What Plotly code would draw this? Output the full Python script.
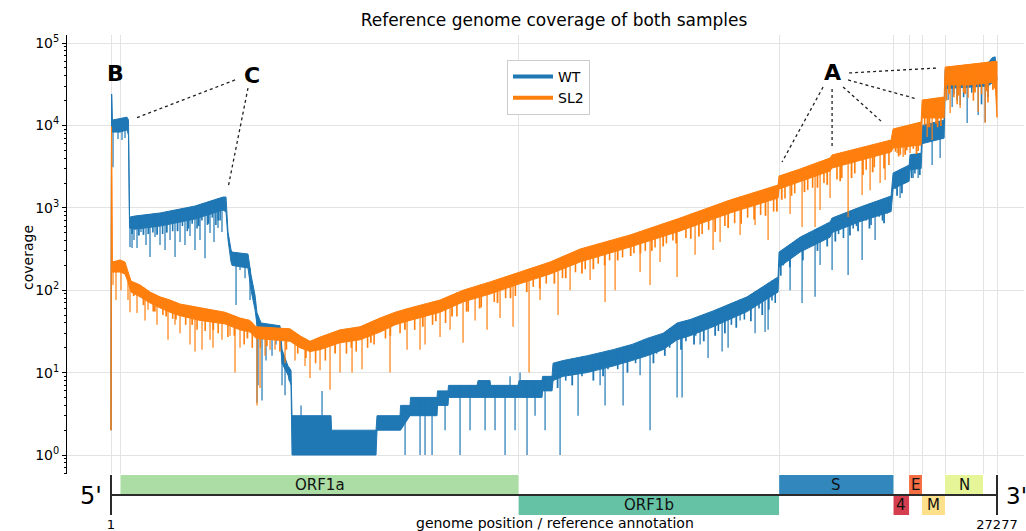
import numpy as np
import plotly.graph_objects as go

GENOME_LEN = 27277

# ---------------- coverage data ----------------
# WT: positions of envelope vertices, upper edge and lower edge of the dense trace band
wt_pos = [1, 19, 41, 278, 494, 540, 571, 740, 1510, 2587, 3449, 3542, 3603, 3696, 3727,
          4219, 4312, 4435, 4496, 4620, 5205, 5266, 5451, 5543, 5574, 6775, 6790, 8160,
          8191, 8899, 8915, 9207, 9222, 10038, 10054, 10377, 10392, 11270, 11301, 11670,
          11686, 12532, 12563, 13271, 13287, 13579, 13610, 13918, 14658, 15458, 16043,
          16505, 16997, 17428, 17828, 18536, 19583, 20537, 20568, 21215, 22138, 22200,
          23062, 24017, 24078, 24571, 24602, 24941, 24972, 25649, 25680, 27000, 27128,
          27220, 27277]
wt_hi = [2, 24000, 11600, 12000, 12600, 11600, 770, 795, 865, 1050, 1350, 1350, 510, 310, 290,
         275, 153, 87, 53, 40, 37, 19, 12, 10.7, 3, 3, 2, 2,
         3, 3, 4, 4, 5, 5, 6, 6, 7, 7, 8, 8,
         7, 7, 8, 8, 9, 9, 13, 14, 16, 19, 22,
         26, 30, 40, 44, 56, 83, 145, 290, 440, 673, 750,
         1020, 1390, 2640, 3300, 4400, 4600, 10000, 11600, 48000, 57000, 66000,
         68000, 35000]
wt_lo = [2, 24000, 8300, 8300, 8800, 7600, 570, 550, 600, 730, 940, 890, 410, 220, 200,
         186, 100, 58, 38, 30, 26, 13, 9.3, 7, 1, 1, 1, 1,
         2, 2, 2, 3, 3, 3, 4, 4, 5, 5, 5, 5,
         5, 5, 5, 5, 6, 6, 8, 9, 10, 12, 14,
         16, 19, 25, 28, 36, 55, 95, 190, 290, 440, 500,
         680, 900, 1700, 2100, 2900, 3000, 6000, 7000, 28000, 30000, 33000,
         35000, 35000]
# WT deep single-position drops / peaks
wt_dip_pos = [63, 217, 340, 432, 586, 648, 709, 802, 925, 1079, 1202, 1356, 1510, 1664, 1818,
              1972, 2126, 2279, 2433, 2587, 2741, 2895, 3049, 3172, 3295, 3418, 3850, 3973,
              4127, 4281, 4496, 4527, 4650, 4773, 4958, 5081, 5266, 5359, 5482, 5851, 6498,
              9054, 9515, 9669, 9885, 10285, 10746, 11054, 11517, 11824, 12132, 12286, 12440,
              12594, 12809, 13056, 13364, 13826, 14380, 15058, 15211, 15766, 16289, 16596,
              17428, 17582, 18136, 18382, 18813, 18998, 19368, 19829, 20137, 20230, 20907,
              21276, 21676, 21830, 22200, 22693, 23124, 23524, 24294, 24695, 24849, 25280,
              25526, 25772, 25896, 26142, 26358, 26697, 26912]
wt_dip_val = [3100, 6840, 6650, 7030, 334, 325, 407, 325, 509, 354, 253, 442, 354, 308, 407,
              253, 385, 354, 455, 308, 407, 245, 495, 385, 569, 509, 66, 176,
              140, 76, 4.3, 7, 4.6, 14, 16, 22, 7, 5.3, 8, 4, 6,
              1, 1, 1, 1, 2, 1, 2, 2, 2, 1, 9, 2,
              10, 1, 3, 2, 1, 3, 7, 4, 4, 9.3, 2,
              5, 5, 22, 15, 18, 20, 43, 30, 31, 33, 100,
              70, 83, 202, 176, 153, 233, 407, 1315, 2300, 2300, 3300,
              4020, 20300, 16700, 17700, 10700, 13400, 11000]
# WT shallow notches below the dense band
wt_notch_pos = [1290, 1590, 1900, 2200, 2350, 2500, 2650, 2800, 2970, 3120, 3230, 3360,
                14000, 14500, 15300, 15600, 16150, 16400, 16800, 17200, 17700, 18000, 18700,
                19100, 19500, 19950, 20350, 20450, 20700, 20800, 21000, 21100, 21400, 21500,
                21950, 22400, 22550, 22850, 22950, 23250, 23400, 23650, 23750, 23900, 24150,
                24450, 24750, 25950, 26050, 26250, 26500, 26800, 27000]
wt_notch_val = [500, 480, 520, 600, 520, 640, 560, 700, 620, 760, 620, 700,
                8, 9, 11, 11, 13, 16, 17, 20, 24, 28, 32,
                38, 44, 60, 75, 70, 200, 230, 260, 300, 330, 360,
                420, 480, 430, 560, 600, 700, 620, 780, 700, 850, 1700,
                2000, 2600, 24000, 20000, 22000, 25000, 18000, 22000]
# WT ragged fringe just under the dense band
wt_fringe_pos = [650, 860, 1000, 1150, 1420, 1720, 2050, 2380, 2700, 3000, 3300,
                 13750, 14200, 14850, 15150, 15900, 16700, 17050, 17550, 17950, 18250, 18600,
                 18900, 19250, 19700, 20050, 20250,
                 20620, 20900, 21300, 21750, 22050, 22300, 22750, 23000, 23350, 23800,
                 24200, 24350, 24650, 24900]
wt_fringe_val = [480, 460, 470, 480, 470, 500, 520, 560, 600, 640, 700,
                 6.5, 7, 8, 9, 10, 13, 16, 19, 22, 24, 28,
                 30, 35, 42, 50, 58,
                 150, 190, 230, 300, 340, 390, 460, 520, 560, 650,
                 1400, 1500, 2300, 2500]

# SL2
sl2_pos = [1, 16, 41, 278, 432, 524, 617, 894, 1202, 1510, 1818, 2126, 2741, 3511, 3973,
           4281, 4466, 5512, 5820, 6128, 6436, 7052, 7668, 8283, 8746, 9207, 10131, 10839,
           11670, 12563, 13518, 14442, 15981, 17520, 19060, 20537, 20568, 21215, 22138,
           22200, 23062, 24017, 24078, 24941, 24972, 25649, 25680, 26450, 27220, 27277]
sl2_hi = [2, 9600, 220, 233, 220, 166, 129, 116, 95, 83, 76, 68, 61, 54, 46,
          43, 36, 34, 28, 24, 27, 33, 36, 46, 54, 61, 76, 100,
          126, 166, 220, 316, 468, 752, 1244, 1890, 2430, 2960, 4020,
          4380, 5300, 6650, 9040, 11000, 20300, 22100, 51000, 55600, 60500, 60000]
sl2_lo = [2, 9600, 166, 166, 157, 126, 95, 83, 70, 61, 54, 49, 43, 39, 33,
          31, 26, 24, 20, 18, 19, 23, 25, 31, 38, 43, 54, 72,
          90, 119, 157, 220, 334, 523, 865, 1315, 1690, 2056, 2800,
          3040, 3800, 4760, 5300, 5780, 12300, 12300, 31000, 31000, 33600, 12500]
sl2_dip_pos = [63, 155, 309, 524, 586, 802, 1048, 1140, 1417, 1756, 1972, 2126, 2433, 2587,
               2803, 3049, 3141, 3418, 3665, 3819, 3973, 4496, 4589, 4743, 4897, 5051, 5359,
               5666, 5974, 6128, 6436, 6744, 7052, 7422, 7729, 8591, 9115, 9515, 9669, 10131,
               10439, 10839, 11209, 11578, 11978, 12378, 12871, 13210, 13764, 14134, 14750,
               15211, 15520, 16289, 16596, 16904, 17428, 17982, 18536, 18752, 19368, 19829,
               20230, 20907, 21276, 21676, 21830, 22138, 22693, 23124, 23370, 23678, 23832,
               24202, 24387, 24602, 25126, 25280, 25834, 26142, 26389, 26697, 26912, 27128]
sl2_dip_val = [116, 76, 100, 76, 54, 53, 43, 58, 38, 25, 38, 30, 22, 18,
               19, 25, 20, 25, 28, 10, 20, 4, 6.5, 16, 19, 19, 13,
               14, 12, 8.6, 10.7, 6.2, 10, 10, 11, 10, 19, 19, 22, 27,
               33, 23, 43, 33, 46, 36, 10, 76, 50, 100, 133,
               72, 100, 166, 116, 220, 145, 270, 308, 385, 468, 618,
               407, 840, 585, 585, 940, 1315, 773, 1430, 1630, 2000, 2170,
               4630, 4140, 4630, 7230, 6650, 14100, 16300, 21500, 14500, 10700, 32700]
sl2_notch_pos = [1300, 1600, 1900, 2300, 2650, 2900, 3300, 3600, 4100, 4350,
                 4600, 5200, 5750, 6300, 6600, 7250, 7550, 7900, 8100, 8450, 8900, 9350,
                 9900, 10300, 10650, 11000, 11400, 11800, 12150, 12450,
                 13000, 13400, 13900, 14300, 14600, 15000, 15350, 15750, 16100, 16450,
                 16750, 17100, 17300, 17700, 18200, 18400, 18900, 19200, 19600, 20000, 20400,
                 20750, 21050, 21450, 21600, 21950, 22350, 22500, 22900, 23250, 23500, 23950,
                 24150, 24300, 24500, 24700, 24850, 25050, 25200, 25400, 25550,
                 25720, 25950, 26050, 26250, 26550, 26800, 27000, 27200]
sl2_notch_val = [55, 50, 45, 38, 33, 32, 30, 27, 22, 20,
                 20, 18, 17, 13, 14, 17, 18, 20, 22, 26, 30, 33,
                 38, 40, 48, 55, 62, 72, 80, 85,
                 110, 120, 140, 165, 180, 210, 230, 250, 280, 300,
                 330, 370, 400, 430, 480, 540, 600, 650, 760, 820, 900,
                 1300, 1500, 1650, 1750, 2000, 2200, 2300, 2600, 2900, 3100, 3300,
                 4800, 4400, 5000, 5200, 4900, 10000, 9500, 10500, 9800,
                 20000, 22000, 18000, 25000, 20000, 24000, 19000, 28000]
sl2_fringe_pos = [700, 1000, 1350, 1700, 2000, 2500, 3150, 3800, 4200,
                  4800, 5400, 6000, 6900, 7400, 8000, 8600, 9050, 9600, 10000, 10500, 10950,
                  11350, 11900, 12300,
                  12800, 13200, 13650, 14000, 14500, 14850, 15200, 15600, 16000, 16300, 16650,
                  17000, 17400, 17850, 18100, 18600, 19000, 19400, 19800, 20150, 20500,
                  20650, 20950, 21350, 21750, 22050, 22450, 22800, 23150, 23450, 23800,
                  24250, 24450, 24800, 25150, 25450,
                  25800, 26100, 26300, 26600, 26950, 27150]
sl2_fringe_val = [85, 66, 55, 48, 44, 38, 33, 28, 26,
                  21, 19, 15, 17, 20, 23, 28, 33, 36, 42, 48, 55,
                  60, 70, 80,
                  95, 105, 120, 140, 160, 180, 200, 230, 260, 280, 300,
                  340, 370, 420, 450, 510, 570, 640, 720, 800, 900,
                  1250, 1400, 1550, 1750, 1900, 2100, 2300, 2500, 2700, 3000,
                  4200, 4400, 4500, 9500, 9500,
                  24000, 23000, 24000, 25000, 26000, 27000]

# ---------------- reference annotation ----------------
gene_names = ["ORF1a", "ORF1b", "S", "4", "E", "M", "N"]
gene_start = [293, 12550, 20570, 24091, 24570, 24969, 25677]
gene_end = [12550, 20568, 24091, 24570, 24969, 25677, 26847]
gene_row = [1, -1, 1, -1, 1, -1, 1]
gene_colors = ["#abdda4", "#66c2a5", "#3288bd", "#d53e4f", "#f46d43", "#fee08b", "#e6f598"]

# ---------------- callouts ----------------
label_text = ["B", "C", "A"]
label_pos = [124, 4343, 22200]
label_cov = [42100, 39800, 43300]
pointer_from_pos = [3819, 4219, 21923, 22200, 22539, 22693, 22724]
pointer_from_cov = [35600, 28400, 29200, 27700, 29200, 35600, 43300]
pointer_to_pos = [771, 3603, 20660, 22200, 23771, 24818, 25464]
pointer_to_cov = [12300, 1740, 3600, 5320, 10700, 20900, 49800]

BLUE = "#1f77b4"
ORANGE = "#ff7f0e"
GRID = "#e3e3e3"
FONT = "DejaVu Sans"

# figure geometry (pixels)
W, H = 1026, 531
ML, MR, MT, MB = 67, 2, 35, 16
PLOT_W = W - ML - MR
PLOT_H = H - MT - MB
MAIN_BOTTOM_PX = 474


def px_x(px):
    return (px - ML) / PLOT_W


def px_y(py):
    return (H - MB - py) / PLOT_H


def band(pos, hi, lo, color):
    x = list(pos) + list(pos)[::-1]
    y = list(hi) + list(lo)[::-1]
    return go.Scatter(x=x, y=y, mode="lines", fill="toself", fillcolor=color,
                      line=dict(color=color, width=1), hoverinfo="skip",
                      showlegend=False, xaxis="x", yaxis="y")


def spikes(pos, hi, dpos, dval, color, width):
    top = 10 ** np.interp(dpos, pos, np.log10(hi))
    xs, ys = [], []
    for p, t, v in zip(dpos, top, dval):
        xs += [p, p, None]
        ys += [t, v, None]
    return go.Scatter(x=xs, y=ys, mode="lines", line=dict(color=color, width=width),
                      hoverinfo="skip", showlegend=False, connectgaps=False,
                      xaxis="x", yaxis="y")


fig = go.Figure()
fig.add_trace(band(wt_pos, wt_hi, wt_lo, BLUE))
fig.add_trace(spikes(wt_pos, wt_hi, wt_fringe_pos, wt_fringe_val, BLUE, 1.8))
fig.add_trace(spikes(wt_pos, wt_hi, wt_notch_pos, wt_notch_val, BLUE, 1.6))
fig.add_trace(spikes(wt_pos, wt_hi, wt_dip_pos, wt_dip_val, BLUE, 1.2))
fig.add_trace(band(sl2_pos, sl2_hi, sl2_lo, ORANGE))
fig.add_trace(spikes(sl2_pos, sl2_hi, sl2_fringe_pos, sl2_fringe_val, ORANGE, 1.8))
fig.add_trace(spikes(sl2_pos, sl2_hi, sl2_notch_pos, sl2_notch_val, ORANGE, 1.6))
fig.add_trace(spikes(sl2_pos, sl2_hi, sl2_dip_pos, sl2_dip_val, ORANGE, 1.2))

# legend entries
fig.add_trace(go.Scatter(x=[None], y=[None], mode="lines", name="WT",
                         line=dict(color=BLUE, width=4)))
fig.add_trace(go.Scatter(x=[None], y=[None], mode="lines", name="SL2",
                         line=dict(color=ORANGE, width=4)))

# pointer lines
for x0, y0, x1, y1 in zip(pointer_from_pos, pointer_from_cov, pointer_to_pos, pointer_to_cov):
    fig.add_trace(go.Scatter(x=[x0, x1], y=[y0, y1], mode="lines",
                             line=dict(color="#222222", width=1.3, dash="dot"),
                             hoverinfo="skip", showlegend=False))

annotations = []
for t, p, c in zip(label_text, label_pos, label_cov):
    annotations.append(dict(x=p, y=np.log10(c), xref="x", yref="y", text="<b>%s</b>" % t,
                            showarrow=False, font=dict(family=FONT, size=22, color="black")))

shapes = []
for name, s, e, r, col in zip(gene_names, gene_start, gene_end, gene_row, gene_colors):
    y0, y1 = (0, 1) if r > 0 else (-1, 0)
    shapes.append(dict(type="rect", xref="x2", yref="y2", x0=s, x1=e, y0=y0, y1=y1,
                       fillcolor=col, line=dict(width=0), layer="below"))
    annotations.append(dict(x=(s + e) / 2, y=(y0 + y1) / 2, xref="x2", yref="y2", text=name,
                            showarrow=False, font=dict(family=FONT, size=15, color="#111111")))
# genome backbone and end ticks
shapes.append(dict(type="line", xref="x2", yref="y2", x0=1, x1=GENOME_LEN, y0=0, y1=0,
                   line=dict(color="#2b2b2b", width=2), layer="above"))
for xe in (1, GENOME_LEN):
    shapes.append(dict(type="line", xref="x2", yref="y2", x0=xe, x1=xe, y0=-1, y1=1,
                       line=dict(color="#2b2b2b", width=2), layer="above"))

annotations += [
    dict(x=px_x(104), y=px_y(496), xref="paper", yref="paper", text="5'", showarrow=False,
         xanchor="right", yanchor="middle", font=dict(family=FONT, size=24, color="black")),
    dict(x=px_x(1004), y=px_y(496), xref="paper", yref="paper", text="3'", showarrow=False,
         xanchor="left", yanchor="middle", font=dict(family=FONT, size=23, color="black")),
    dict(x=px_x(18), y=px_y(258), xref="paper", yref="paper", text="coverage", showarrow=False,
         textangle=-90, font=dict(family=FONT, size=14, color="black")),
    dict(x=px_x(555), y=px_y(523), xref="paper", yref="paper",
         text="genome position / reference annotation", showarrow=False,
         yanchor="middle", font=dict(family=FONT, size=14, color="black")),
]

grid_x = sorted(set([1, GENOME_LEN] + gene_start + gene_end))
px_per_nt = (997 - 111) / (GENOME_LEN - 1)
x_range = [1 - (111 - ML) / px_per_nt, GENOME_LEN + (W - MR - 997) / px_per_nt]
decade_px = 82.4
y_range = [-(MAIN_BOTTOM_PX - 455) / decade_px, (455 - MT) / decade_px]
minor_vals = [m * 10.0 ** d for d in range(-1, 6) for m in range(2, 10)]
main_dom_bottom = (H - MB - MAIN_BOTTOM_PX) / PLOT_H

fig.update_layout(
    width=W, height=H,
    margin=dict(l=ML, r=MR, t=MT, b=MB, autoexpand=False),
    paper_bgcolor="white", plot_bgcolor="white",
    font=dict(family=FONT, size=13, color="black"),
    title=dict(text="Reference genome coverage of both samples", x=554 / W, y=1 - 20 / H,
               xanchor="center", yanchor="middle", automargin=False,
               font=dict(family=FONT, size=17, color="black")),
    showlegend=True,
    legend=dict(x=px_x(507), y=px_y(60), xanchor="left", yanchor="top", bgcolor="white",
                bordercolor="#cccccc", borderwidth=1, font=dict(family=FONT, size=14),
                itemwidth=40, tracegroupgap=0),
    xaxis=dict(domain=[0, 1], range=x_range, anchor="y", tickvals=grid_x, showticklabels=False,
               ticks="", showgrid=True, gridcolor=GRID, gridwidth=1, zeroline=False,
               showline=False, automargin=False),
    yaxis=dict(domain=[main_dom_bottom, 1], type="log", range=y_range, anchor="x",
               tickvals=[1, 10, 100, 1000, 10000, 100000],
               ticktext=["10<sup>%d</sup>" % k for k in range(6)],
               ticks="outside", ticklen=4, tickwidth=1, tickcolor="black",
               showline=True, linecolor="black", linewidth=1,
               showgrid=True, gridcolor=GRID, gridwidth=1, zeroline=False, automargin=False,
               tickfont=dict(family=FONT, size=14, color="black"),
               minor=dict(tickvals=minor_vals, ticks="outside", ticklen=2, tickcolor="black",
                          showgrid=False)),
    xaxis2=dict(domain=[0, 1], range=x_range, anchor="y2", tickvals=[1, GENOME_LEN],
                ticktext=["1", str(GENOME_LEN)], ticks="", showgrid=False, zeroline=False,
                showline=False, automargin=False,
                tickfont=dict(family=FONT, size=13, color="black")),
    yaxis2=dict(domain=[0, (H - MB - 475) / PLOT_H], range=[-1, 1], anchor="x2",
                visible=False, automargin=False),
    shapes=shapes,
    annotations=annotations,
)

fig.write_html("out.html", config={"displayModeBar": False},
               post_script="document.body.style.margin='0px';document.body.style.padding='0px';")
